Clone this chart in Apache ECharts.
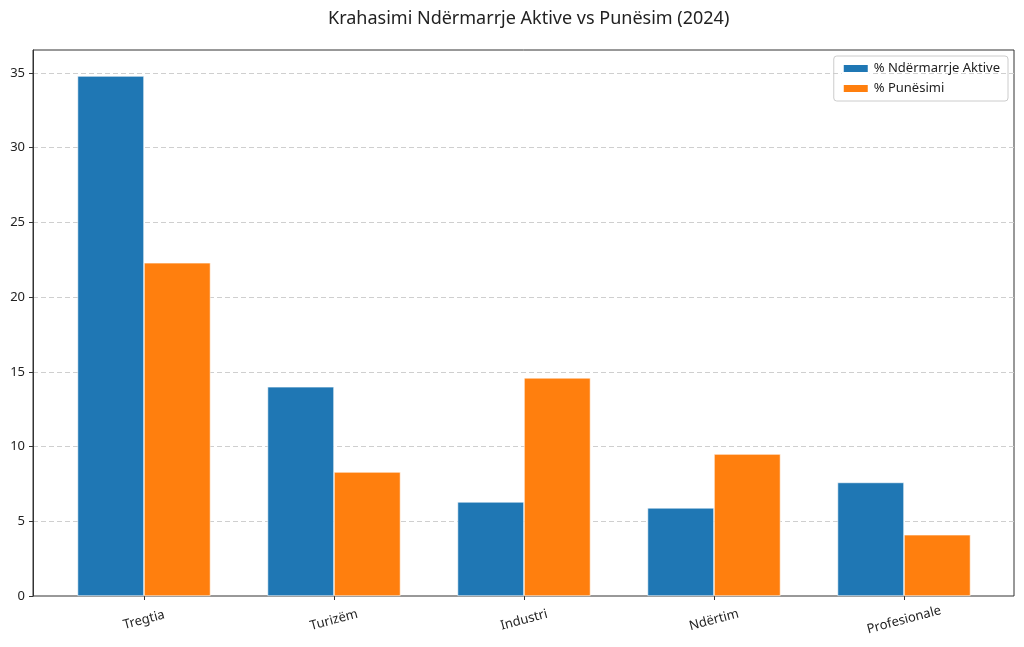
<!DOCTYPE html>
<html>
<head>
<meta charset="utf-8">
<script src="https://cdn.jsdelivr.net/npm/echarts@6/dist/echarts.min.js"></script>
<style>
html, body { margin: 0; padding: 0; background: #fff; }
#main { width: 1024px; height: 647px; }
</style>
</head>
<body>
<div id="main"></div>
<script>
var myChart = echarts.init(document.getElementById('main'));

var sectors = ['Tregtia', 'Turizëm', 'Industri', 'Ndërtim', 'Profesionale'];
var activeShare = [34.8, 14.0, 6.3, 5.9, 7.6];
var employShare = [22.3, 8.3, 14.6, 9.5, 4.1];
var seriesNames = ['% Ndërmarrje Aktive', '% Punësimi'];

var yMax = 36.54;
var font = 'Noto Sans';

option = {
    backgroundColor: '#fff',
    textStyle: { fontFamily: font },
    animation: false,
    title: {
        text: 'Krahasimi Ndërmarrje Aktive vs Punësim (2024)',
        left: 323,
        top: 5,
        textStyle: { fontFamily: font, fontSize: 18, fontWeight: 'normal', color: '#222' }
    },
    legend: {
        orient: 'vertical',
        right: 16,
        top: 56,
        itemWidth: 26,
        itemHeight: 9,
        itemGap: 7,
        padding: [6, 8, 6, 8],
        borderColor: '#ccc',
        borderWidth: 1,
        borderRadius: 3,
        icon: 'rect',
        textStyle: { fontFamily: font, fontSize: 13, color: '#222' },
        data: seriesNames
    },
    grid: [
        // frame, y axis and grid lines
        { left: 33, right: 10, top: 50, bottom: 51, show: true, borderColor: '#333', borderWidth: 1, containLabel: false },
        // bars and category ticks
        { left: 49, right: 25, top: 50, bottom: 51, containLabel: false }
    ],
    xAxis: [
        { gridIndex: 0, type: 'value', min: 0, max: 1, show: false },
        {
            gridIndex: 1,
            type: 'category',
            data: sectors,
            axisLine: { show: false },
            axisTick: { show: true, alignWithLabel: true, length: 4, lineStyle: { color: '#333' } },
            axisLabel: {
                rotate: 15, fontFamily: font, fontSize: 13, color: '#222',
                align: 'center', verticalAlign: 'middle', margin: 24
            }
        }
    ],
    yAxis: [
        {
            gridIndex: 0,
            type: 'value',
            min: 0,
            max: yMax,
            interval: 5,
            axisLine: { show: true, lineStyle: { color: '#333' } },
            axisTick: { show: true, length: 4, lineStyle: { color: '#333' } },
            axisLabel: {
                fontFamily: font, fontSize: 13, color: '#222', margin: 8, showMaxLabel: false,
                formatter: function (v) { return v % 5 === 0 ? String(v) : ''; }
            },
            splitLine: { show: true, showMinLine: false, showMaxLine: false, lineStyle: { color: '#cfcfcf', type: [5, 3], width: 1 } }
        },
        { gridIndex: 1, type: 'value', min: 0, max: yMax, show: false, splitLine: { show: false } }
    ],
    series: [
        {
            name: seriesNames[0],
            type: 'bar',
            xAxisIndex: 1,
            yAxisIndex: 1,
            data: activeShare,
            barWidth: '35%',
            barGap: '0%',
            itemStyle: { color: '#1f77b4', borderColor: '#fff', borderWidth: 0.6 }
        },
        {
            name: seriesNames[1],
            type: 'bar',
            xAxisIndex: 1,
            yAxisIndex: 1,
            data: employShare,
            barWidth: '35%',
            barGap: '0%',
            itemStyle: { color: '#ff7f0e', borderColor: '#fff', borderWidth: 0.6 }
        }
    ]
};

myChart.setOption(option);
</script>
</body>
</html>
